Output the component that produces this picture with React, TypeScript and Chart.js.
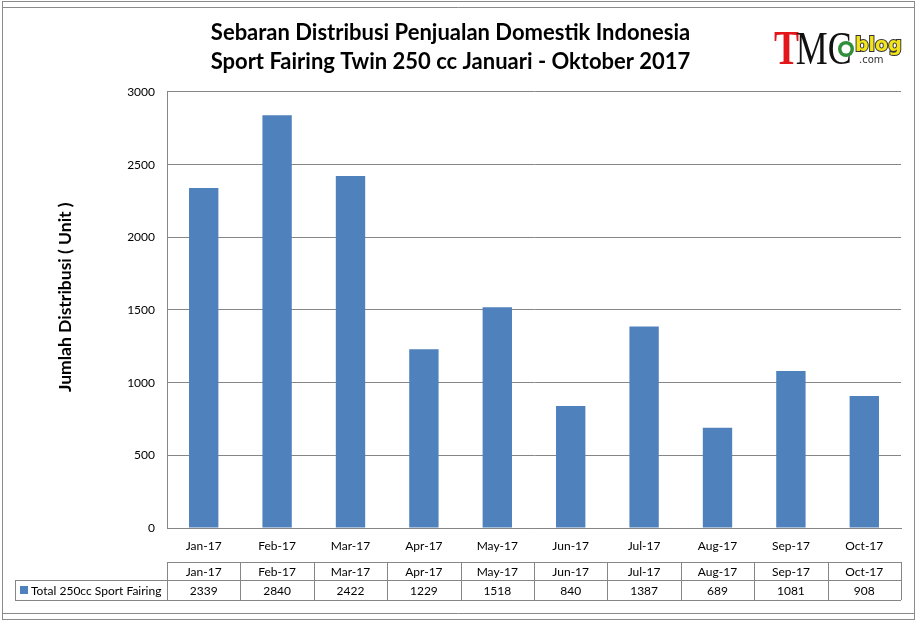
import { useEffect, useRef } from "react";
import { Chart, registerables } from "chart.js";

Chart.register(...registerables);

const titleLines = [
  "Sebaran Distribusi Penjualan Domestik Indonesia",
  "Sport Fairing Twin 250 cc Januari - Oktober 2017",
];
const yTitle = "Jumlah Distribusi ( Unit )";
const seriesLabel = "Total 250cc Sport Fairing";
const months = [
  "Jan-17", "Feb-17", "Mar-17", "Apr-17", "May-17",
  "Jun-17", "Jul-17", "Aug-17", "Sep-17", "Oct-17",
];
const totals = [2339, 2840, 2422, 1229, 1518, 840, 1387, 689, 1081, 908];
const yMax = 3000;
const yStep = 500;

const BAR = "#4f81bd";
const LINE = "#868686";
const FONT = "Lato, 'Open Sans', sans-serif";

// data table under the x axis + outer frame + logo
const extras = {
  id: "extras",
  afterDraw(chart: Chart) {
    const { ctx } = chart;
    const x: any = chart.scales.x;
    const r1 = 562, r2 = 580, r3 = 600, legendLeft = 15;
    const left = x.getPixelForValue(-0.5);
    const right = x.getPixelForValue(months.length - 0.5);

    ctx.save();
    ctx.strokeStyle = LINE;
    ctx.lineWidth = 1;
    ctx.beginPath();
    ctx.moveTo(left, r1 + 0.5);
    ctx.lineTo(right, r1 + 0.5);
    ctx.moveTo(legendLeft, r2 + 0.5);
    ctx.lineTo(right, r2 + 0.5);
    ctx.moveTo(legendLeft, r3 + 0.5);
    ctx.lineTo(right, r3 + 0.5);
    ctx.moveTo(legendLeft + 0.5, r2);
    ctx.lineTo(legendLeft + 0.5, r3);
    for (let i = 0; i <= months.length; i++) {
      const px = Math.round(x.getPixelForValue(i - 0.5)) + 0.5;
      ctx.moveTo(px, r1);
      ctx.lineTo(px, r3);
    }
    ctx.stroke();

    ctx.fillStyle = "#000";
    ctx.font = `12px ${FONT}`;
    ctx.textAlign = "center";
    ctx.textBaseline = "middle";
    months.forEach((m, i) => {
      const cx = x.getPixelForValue(i);
      ctx.fillText(m, cx, (r1 + r2) / 2 + 1);
      ctx.fillText(String(totals[i]), cx, (r2 + r3) / 2 + 1);
    });
    ctx.fillStyle = BAR;
    ctx.fillRect(20, 586, 8, 8);
    ctx.fillStyle = "#000";
    ctx.textAlign = "left";
    ctx.fillText(seriesLabel, 31, (r2 + r3) / 2 + 1);

    // frame
    ctx.strokeStyle = "#8a8a8a";
    ctx.strokeRect(2.5, 1.5, 912, 618);
    ctx.beginPath();
    ctx.moveTo(2, 7.5);
    ctx.lineTo(915, 7.5);
    ctx.moveTo(2, 613.5);
    ctx.lineTo(915, 613.5);
    ctx.stroke();

    // logo
    ctx.textBaseline = "alphabetic";
    ctx.save();
    ctx.translate(774, 64);
    ctx.scale(0.78, 1);
    ctx.font = "bold 48px 'Liberation Serif', 'DejaVu Serif', serif";
    ctx.fillStyle = "#e3161b";
    ctx.fillText("T", 0, 0);
    const tw = ctx.measureText("T").width;
    ctx.fillStyle = "#111";
    ctx.font = "46px 'Liberation Serif', 'DejaVu Serif', serif";
    ctx.fillText("MC", tw - 4, 0);
    ctx.restore();
    ctx.beginPath();
    ctx.fillStyle = "#2f8f3a";
    ctx.arc(846, 49, 8, 0, Math.PI * 2);
    ctx.fill();
    ctx.fillStyle = "#fff";
    ctx.beginPath();
    ctx.arc(846, 49, 4.5, 0, Math.PI * 2);
    ctx.fill();
    ctx.font = "bold 19px 'DejaVu Sans', sans-serif";
    ctx.lineWidth = 2;
    ctx.strokeStyle = "#333";
    ctx.strokeText("blog", 855, 51);
    ctx.fillStyle = "#f2e31b";
    ctx.fillText("blog", 855, 51);
    ctx.font = "10px 'DejaVu Sans', sans-serif";
    ctx.fillStyle = "#333";
    ctx.fillText(".com", 859, 63);
    ctx.restore();
  },
};

export default function App() {
  const canvasRef = useRef<HTMLCanvasElement>(null);
  const chartRef = useRef<Chart | null>(null);

  useEffect(() => {
    document.body.style.margin = "0";
    if (!canvasRef.current) return;
    chartRef.current?.destroy();

    chartRef.current = new Chart(canvasRef.current, {
      type: "bar",
      data: {
        labels: months,
        datasets: [
          {
            label: seriesLabel,
            data: totals,
            backgroundColor: BAR,
            borderWidth: 0,
            categoryPercentage: 1,
            barPercentage: 0.4,
          },
        ],
      },
      options: {
        responsive: false,
        animation: false,
        devicePixelRatio: 1,
        layout: { padding: { top: 0, right: 16, bottom: 0, left: 0 } },
        plugins: {
          legend: { display: false },
          tooltip: { enabled: false },
          title: {
            display: true,
            text: titleLines,
            color: "#000",
            font: { family: FONT, size: 22, weight: "bold", lineHeight: 1.34 },
            padding: { top: 18, bottom: 15 },
          },
        },
        scales: {
          x: {
            grid: { display: false, drawTicks: false },
            border: { display: true, color: LINE },
            ticks: {
              color: "#000",
              font: { family: FONT, size: 12 },
              padding: 11,
              maxRotation: 0,
            },
            afterFit: (s: any) => {
              s.height = 95;
            },
          },
          y: {
            min: 0,
            max: yMax,
            grid: { color: LINE, drawTicks: false },
            border: { display: true, color: LINE },
            ticks: {
              stepSize: yStep,
              color: "#000",
              font: { family: FONT, size: 12 },
              padding: 12,
              callback: (v: any) => String(v),
            },
            title: {
              display: true,
              text: "      " + yTitle,
              color: "#000",
              font: { family: FONT, size: 17.5, weight: "bold" },
              padding: { top: 55 },
            },
            afterFit: (s: any) => {
              s.width = 167;
            },
          },
        },
      },
      plugins: [extras],
    });

    return () => chartRef.current?.destroy();
  }, []);

  return (
    <div style={{ width: 917, height: 623, background: "#fff" }}>
      <canvas ref={canvasRef} width={917} height={623} />
    </div>
  );
}
